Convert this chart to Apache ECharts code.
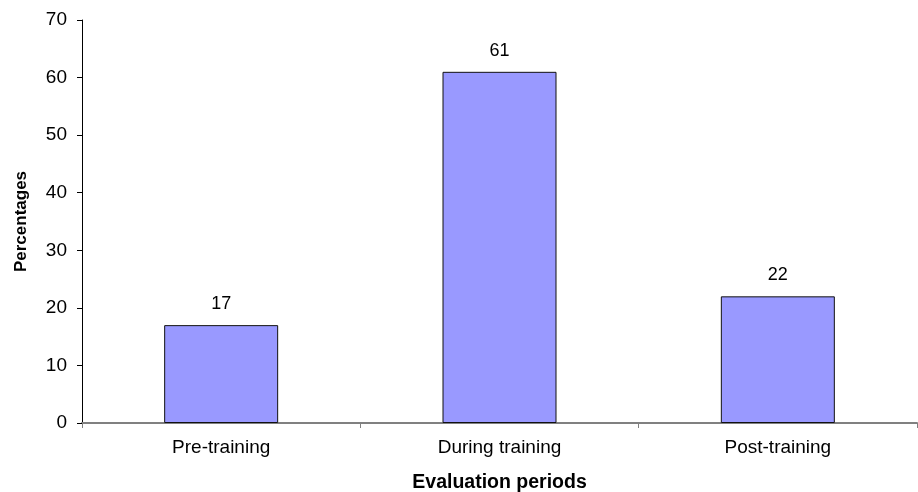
<!DOCTYPE html>
<html>
<head>
<meta charset="utf-8">
<script src="https://cdn.jsdelivr.net/npm/echarts@6/dist/echarts.min.js"></script>
<style>
html, body { margin: 0; padding: 0; background: #fff; }
#chart { width: 918px; height: 492px; }
</style>
</head>
<body>
<div id="chart"></div>
<script>
// Share of responses in each evaluation period
const periods = ['Pre-training', 'During training', 'Post-training'];
const percentages = [17, 61, 22];
const yTicks = { min: 0, max: 70, interval: 10 };

const FONT = '"Liberation Sans", Arial, sans-serif';

const chart = echarts.init(document.getElementById('chart'), null, { renderer: 'canvas' });
chart.setOption({
  animation: false,
  backgroundColor: '#ffffff',
  grid: { left: 82, right: 1, top: 20, bottom: 69, containLabel: false, outerBoundsMode: 'none' },
  xAxis: {
    type: 'category',
    data: periods,
    name: 'Evaluation periods',
    nameLocation: 'middle',
    nameGap: 50,
    nameTextStyle: { fontFamily: FONT, fontSize: 19.5, fontWeight: 'bold', color: '#000' },
    axisLine: { lineStyle: { color: '#808080', width: 2 } },
    axisTick: { show: true, alignWithLabel: false, length: 5, lineStyle: { color: '#808080' } },
    axisLabel: { fontFamily: FONT, fontSize: 19, color: '#000', margin: 15 },
    splitLine: { show: false }
  },
  yAxis: {
    type: 'value',
    min: yTicks.min,
    max: yTicks.max,
    interval: yTicks.interval,
    name: 'Percentages',
    nameLocation: 'middle',
    nameGap: 52,
    nameTextStyle: { fontFamily: FONT, fontSize: 17, fontWeight: 'bold', color: '#000' },
    axisLine: { show: true, lineStyle: { color: '#000', width: 1 } },
    axisTick: { show: true, length: 5, lineStyle: { color: '#000' } },
    axisLabel: { fontFamily: FONT, fontSize: 19, color: '#000', margin: 15 },
    splitLine: { show: false }
  },
  series: [{
    type: 'bar',
    data: percentages,
    barWidth: 114,
    itemStyle: { color: '#9999FF', borderColor: '#111', borderWidth: 1 },
    label: {
      show: true,
      position: 'top',
      distance: 12,
      fontFamily: FONT,
      fontSize: 18,
      color: '#000'
    }
  }]
});
</script>
</body>
</html>
